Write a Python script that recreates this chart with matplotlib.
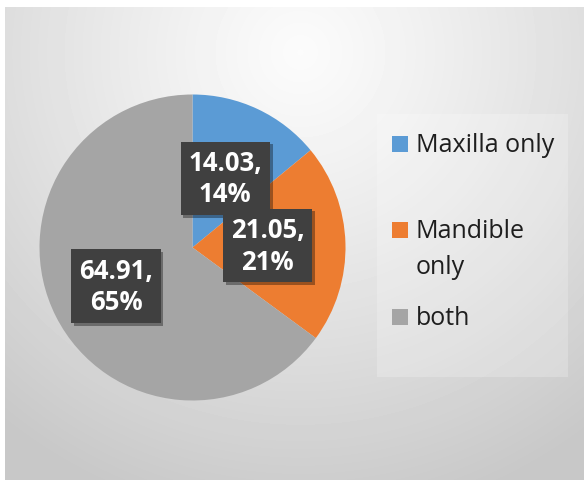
import numpy as np
import matplotlib.pyplot as plt
import matplotlib.patheffects as pe
from matplotlib.patches import Rectangle

categories = ['Maxilla only', 'Mandible\nonly', 'both']
values = [14.03, 21.05, 64.91]
percents = ['14%', '21%', '65%']
colors = ['#5B9BD5', '#ED7D31', '#A5A5A5']
label_dist = [0.50, 0.49, 0.56]

plt.rcParams['font.family'] = ['Open Sans', 'DejaVu Sans']

W, H = 584, 481
fig = plt.figure(figsize=(W / 100, H / 100), dpi=100)
fig.patch.set_facecolor('white')

# radial gray gradient behind the chart
bg = fig.add_axes([5 / W, 0, (W - 5) / W, (H - 8) / H])
yy, xx = np.mgrid[0:H - 8, 0:W - 5]
d = np.hypot(xx - 295, yy - 45)
shade = 0.985 - 0.2 * np.clip(d / 470, 0, 1) ** 1.15
bg.imshow(shade, cmap='gray', vmin=0, vmax=1, aspect='auto', interpolation='bilinear')
bg.axis('off')

# pie
cx, cy, r = 192.5, 248.5, 153
ax = fig.add_axes([(cx - r) / W, (H - cy - r) / H, 2 * r / W, 2 * r / H])
wedges, _ = ax.pie(values, colors=colors, startangle=90, counterclock=False,
                   radius=1, wedgeprops=dict(linewidth=0))
ax.set_xlim(-1, 1)
ax.set_ylim(-1, 1)
ax.set_aspect('auto')

total = sum(values)
cum = np.cumsum([0] + values)
for i, v in enumerate(values):
    mid = np.deg2rad(90 - (cum[i] + v / 2) / total * 360)
    x = label_dist[i] * np.cos(mid)
    y = label_dist[i] * np.sin(mid)
    t = ax.text(x, y, f'{v:.2f},\n{percents[i]}', ha='center', va='center',
                color='white', fontsize=18.5, fontweight='bold', linespacing=1.2,
                bbox=dict(boxstyle='square,pad=0.3', fc='#404040', ec='none'))
    t.get_bbox_patch().set_path_effects([
        pe.SimplePatchShadow(offset=(2, -2), shadow_rgbFace='k', alpha=0.35),
        pe.Normal()])

# legend drawn in pixel coords
lg = fig.add_axes([0, 0, 1, 1])
lg.set_xlim(0, W)
lg.set_ylim(H, 0)
lg.axis('off')
lg.add_patch(Rectangle((377, 115), 191, 263, fc='white', ec='none', alpha=0.22))
entry_y = [144.5, 230.5, 317.5]
for lab, col, ey in zip(categories, colors, entry_y):
    lg.add_patch(Rectangle((392, ey - 8), 16, 16, fc=col, ec='none'))
    for j, line in enumerate(lab.split('\n')):
        lg.text(416, ey + 8 + 36 * j, line, ha='left', va='baseline',
                fontsize=18, color='#1e1e1e')

fig.savefig('out.png', dpi=100)
